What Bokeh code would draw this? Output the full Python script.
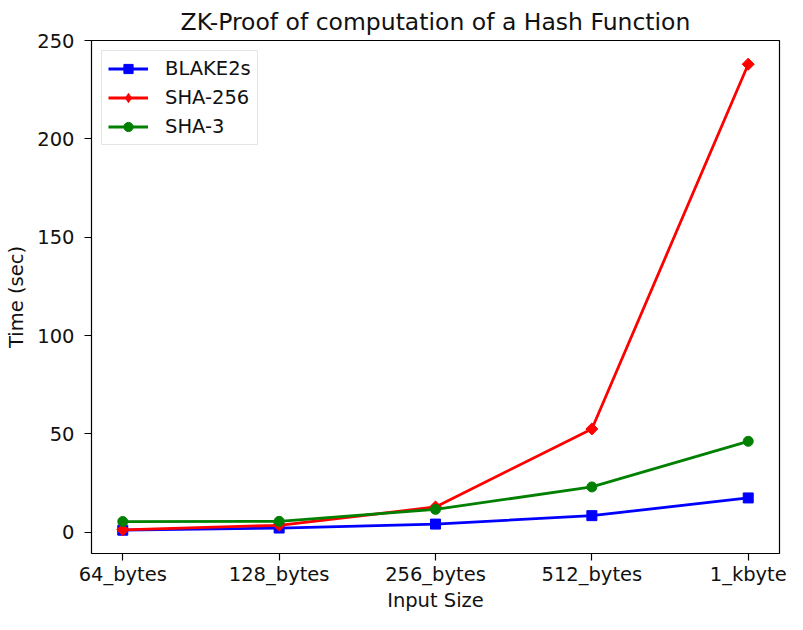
import math
from bokeh.plotting import figure
from bokeh.models import Range1d, FixedTicker, Legend, LegendItem
from bokeh.embed import file_html
from bokeh.resources import INLINE

categories = ["64_bytes", "128_bytes", "256_bytes", "512_bytes", "1_kbyte"]
blake2s = [1.0, 2.1, 4.1, 8.4, 17.4]
sha256 = [1.2, 3.5, 12.8, 52.5, 238.0]
sha3 = [5.4, 5.5, 11.6, 23.0, 46.2]
y_ticks = [0, 50, 100, 150, 200, 250]

xs = list(range(len(categories)))
FONT = "DejaVu Sans"
FS = "19.5px"
TXT = "#111111"

p = figure(width=787, height=614, output_backend="svg", toolbar_location=None,
           x_range=Range1d(-0.2, len(categories) - 1 + 0.2),
           y_range=Range1d(-10.85, 250.05),
           title="ZK-Proof of computation of a Hash Function")
p.min_border_left = 91
p.min_border_right = 8
p.min_border_top = 40
p.min_border_bottom = 50

p.title.text_font = FONT
p.title.text_font_size = "23.5px"
p.title.text_font_style = "normal"
p.title.align = "center"
p.title.text_color = TXT

p.xgrid.visible = False
p.ygrid.visible = False
p.outline_line_color = "black"
p.outline_line_width = 1.2
p.background_fill_color = "white"
p.border_fill_color = "white"

for ax in (p.xaxis[0], p.yaxis[0]):
    ax.axis_line_color = None
    ax.major_tick_line_color = "black"
    ax.major_tick_line_width = 1.2
    ax.major_tick_out = 7
    ax.major_tick_in = 0
    ax.minor_tick_line_color = None
    ax.major_label_text_font = FONT
    ax.major_label_text_font_size = FS
    ax.major_label_text_color = TXT
    ax.axis_label_text_font = FONT
    ax.axis_label_text_font_size = FS
    ax.axis_label_text_font_style = "normal"
    ax.axis_label_text_color = TXT

p.xaxis.ticker = FixedTicker(ticks=xs)
p.xaxis.major_label_overrides = {i: c for i, c in enumerate(categories)}
p.xaxis.axis_label = "Input Size"
p.xaxis.major_label_standoff = 2
p.xaxis.axis_label_standoff = 0

p.yaxis.ticker = FixedTicker(ticks=y_ticks)
p.yaxis.axis_label = "Time (sec)"
p.yaxis.major_label_standoff = 10
p.yaxis.axis_label_standoff = 6

LW = 2.8
items = []
specs = [
    ("BLAKE2s", blake2s, "#0000ff", "square", 10, 0.0, "square"),
    ("SHA-256", sha256, "#ff0000", "square", 8.5, math.pi / 4, "diamond"),
    ("SHA-3", sha3, "#008000", "circle", 10, 0.0, "circle"),
]
for name, ys, col, mk, sz, ang, legmk in specs:
    l = p.line(xs, ys, line_color=col, line_width=LW)
    s = p.scatter(xs, ys, marker=mk, size=sz, angle=ang,
                  fill_color=col, line_color=col)
    if legmk != mk:
        # legend-only proxy (legend glyphs are drawn without rotation)
        s = p.scatter(xs, ys, marker=legmk, size=sz, fill_color=col,
                      line_color=col, visible=False)
    items.append(LegendItem(label=name, renderers=[l, s]))

legend = Legend(items=items, location="top_left")
legend.margin = 10
legend.padding = 6
legend.spacing = 6
legend.glyph_width = 40
legend.glyph_height = 23
legend.label_height = 20
legend.label_standoff = 17
legend.label_text_font = FONT
legend.label_text_font_size = FS
legend.label_text_color = TXT
legend.border_line_color = "#cccccc"
legend.border_line_width = 1
legend.background_fill_alpha = 0.8
p.add_layout(legend, "center")

open("out.html", "w").write(file_html(p, INLINE))
